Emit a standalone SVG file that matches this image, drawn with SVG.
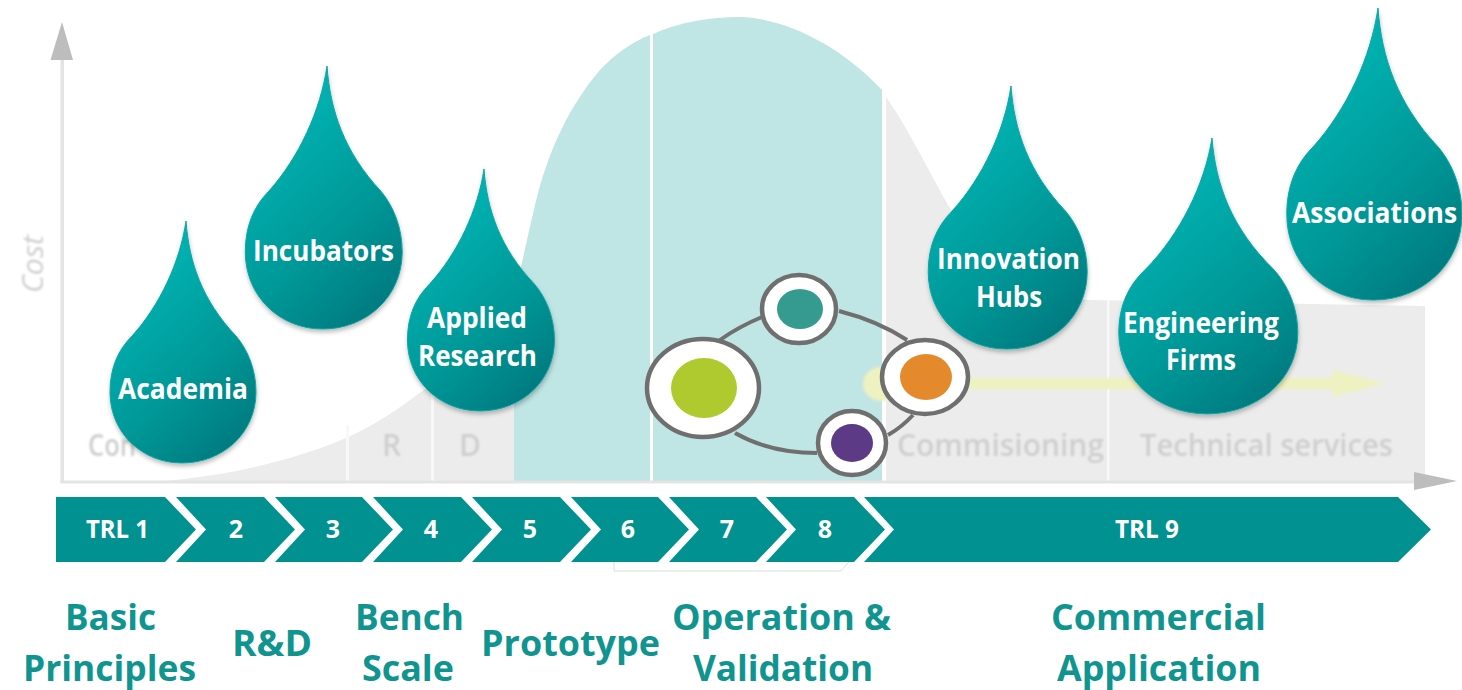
<svg xmlns="http://www.w3.org/2000/svg" width="1462" height="690" viewBox="0 0 1462 690">
<style>
text{font-family:"Open Sans","Noto Sans","Liberation Sans",sans-serif}
.d{fill:url(#dg);stroke:#12a5a5;stroke-width:1}
.w{font-size:28px;font-weight:700;fill:#fff}
.c{font-size:25px;font-weight:700;fill:#fff}
.b{font-size:36px;font-weight:700;fill:#0f9490}
.g{font-size:30px;font-weight:600;fill:#cfcfcf;filter:url(#soft)}
.ch{fill:#029191}
.ring{fill:#fff;stroke:#6f6f6f;stroke-width:4.500}
.link{fill:none;stroke:#6f6f6f;stroke-width:4}
</style>
<defs>
<linearGradient id="dg" x1="0.3" y1="0.25" x2="0.72" y2="1"><stop offset="0" stop-color="#00afae"/><stop offset="0.55" stop-color="#009797"/><stop offset="1" stop-color="#007b80"/></linearGradient>
<filter id="sh" x="-20%" y="-10%" width="140%" height="125%"><feDropShadow dx="0.5" dy="3" stdDeviation="2" flood-color="#000" flood-opacity="0.25"/></filter>
<filter id="soft"><feGaussianBlur stdDeviation="0.9"/></filter>
<filter id="glow" x="-5%" y="-50%" width="110%" height="200%"><feGaussianBlur stdDeviation="1.6"/></filter>
<path id="drop" class="d" vector-effect="non-scaling-stroke" d="M0,0 C3,41 16,79 50,115 C62,129 70,149 70,171 C70,212 37,242 -4,242 C-44,242 -76,212 -76,171 C-76,147 -68,129 -54,115 C-26,84 -6,41 0,0Z"/>
</defs>
<rect width="1462" height="690" fill="#fff"/>
<g id="chart">
<path fill="#ececec" d="M165,481 C240,474 300,458 348,437 C375,425 400,408 421,392 C455,368 490,340 514,290 V481Z"/>
<path fill="#ececec" d="M886,97 C910,130 935,185 960,225 C985,265 1020,295 1090,300 L1425,306 V481 H886Z"/>
<path fill="#bfe5e4" d="M514,481 V300 C522,262 528,235 535,205 C548,150 570,105 600,70 C615,54 632,42 650,35 V481Z"/>
<path fill="#bfe5e4" d="M653,34 C680,22 710,17 740,17 C785,18 840,45 882,90 V481 H653Z"/>
<rect x="346" y="425" width="3" height="57" fill="#f8f8f8"/>
<rect x="431" y="385" width="3" height="97" fill="#f8f8f8"/>
<rect x="1107" y="300" width="2.500" height="182" fill="#f8f8f8"/>
<rect x="60.500" y="58" width="3.500" height="425" fill="#e4e4e4"/>
<rect x="60.500" y="480.500" width="1356" height="3" fill="#e4e4e4"/>
<polygon points="62,22 73,60 50.500,60" fill="#bdbdbd"/>
<polygon points="1457,481 1414,472 1414,490" fill="#bdbdbd"/>
<g filter="url(#glow)" fill="#eef2c0">
<ellipse cx="881" cy="384" rx="18" ry="17"/>
<rect x="881" y="378" width="455" height="11"/>
<polygon points="1333,370 1385,383.500 1333,397"/>
</g>
<text class="g" x="88" y="456" textLength="48" lengthAdjust="spacingAndGlyphs">Con</text>
<text class="g" x="382" y="456">R</text>
<text class="g" x="459" y="456">D</text>
<text class="g" x="897" y="456" textLength="207" lengthAdjust="spacingAndGlyphs">Commisioning</text>
<text class="g" x="1140" y="456" textLength="253" lengthAdjust="spacingAndGlyphs">Technical services</text>
<text class="g" transform="translate(43,293) rotate(-90)" font-style="italic" style="font-weight:400" textLength="58" lengthAdjust="spacingAndGlyphs">Cost</text>
</g>
<path d="M614,555 V571 H841 L853,557" fill="#fff" stroke="#dcdcdc" stroke-width="1"/>
<g id="connectors">
<path class="link" d="M720,340 Q738,327 762,317"/>
<path class="link" d="M839,311 Q878,321 907,340"/>
<path class="link" d="M913,415 Q902,427 888,435"/>
<path class="link" d="M817,453 Q770,453 735,433"/>
</g>
<g id="net-green"><ellipse class="ring" cx="703" cy="388" rx="56" ry="49"/><ellipse cx="704" cy="388" rx="33" ry="30" fill="#afca2e"/></g>
<g id="net-teal"><ellipse class="ring" cx="799" cy="309" rx="37" ry="34"/><ellipse cx="800" cy="309" rx="23" ry="20" fill="#359b90"/></g>
<g id="net-orange"><ellipse class="ring" cx="925" cy="377" rx="43" ry="37"/><ellipse cx="926" cy="377" rx="26" ry="23" fill="#e58a2c"/></g>
<g id="net-purple"><ellipse class="ring" cx="852" cy="443" rx="34" ry="32"/><ellipse cx="852" cy="443" rx="21" ry="19" fill="#5d3a86"/></g>
<g id="trl-bar">
<polygon class="ch" points="56,497 165,497 196,529.500 165,562 56,562"/>
<polygon class="ch" points="176,497 264,497 295,529.500 264,562 176,562 206,529.500"/>
<polygon class="ch" points="275,497 362,497 393,529.500 362,562 275,562 305,529.500"/>
<polygon class="ch" points="373,497 461,497 492,529.500 461,562 373,562 403,529.500"/>
<polygon class="ch" points="472,497 560,497 591,529.500 560,562 472,562 502,529.500"/>
<polygon class="ch" points="571,497 658,497 689,529.500 658,562 571,562 601,529.500"/>
<polygon class="ch" points="669,497 756,497 787,529.500 756,562 669,562 699,529.500"/>
<polygon class="ch" points="766,497 854,497 885,529.500 854,562 766,562 796,529.500"/>
<polygon class="ch" points="864,497 1398,497 1431,529.500 1398,562 864,562 894,529.500"/>
<text class="c" x="86" y="538" textLength="63" lengthAdjust="spacingAndGlyphs">TRL 1</text>
<text class="c" x="236" y="538" text-anchor="middle">2</text>
<text class="c" x="333" y="538" text-anchor="middle">3</text>
<text class="c" x="431" y="538" text-anchor="middle">4</text>
<text class="c" x="530" y="538" text-anchor="middle">5</text>
<text class="c" x="628" y="538" text-anchor="middle">6</text>
<text class="c" x="727" y="538" text-anchor="middle">7</text>
<text class="c" x="825" y="538" text-anchor="middle">8</text>
<text class="c" x="1115" y="538" textLength="64" lengthAdjust="spacingAndGlyphs">TRL 9</text>
</g>
<g id="academia"><g filter="url(#sh)"><use href="#drop" transform="translate(186,221)"/></g><text class="w" x="118" y="399" textLength="130" lengthAdjust="spacingAndGlyphs">Academia</text></g>
<g id="incubators"><g filter="url(#sh)"><use href="#drop" transform="translate(327,66) scale(1.075,1.087)"/></g><text class="w" x="253" y="261" textLength="141" lengthAdjust="spacingAndGlyphs">Incubators</text></g>
<g id="applied-research"><g filter="url(#sh)"><use href="#drop" transform="translate(484,169) scale(1.007,1)"/></g><text class="w" x="427" y="328" textLength="100" lengthAdjust="spacingAndGlyphs">Applied</text><text class="w" x="418" y="366" textLength="119" lengthAdjust="spacingAndGlyphs">Research</text></g>
<g id="innovation-hubs"><g filter="url(#sh)"><use href="#drop" transform="translate(1011,86) scale(1.089,1.087)"/></g><text class="w" x="937" y="269" textLength="143" lengthAdjust="spacingAndGlyphs">Innovation</text><text class="w" x="976" y="307" textLength="66" lengthAdjust="spacingAndGlyphs">Hubs</text></g>
<g id="engineering-firms"><g filter="url(#sh)"><use href="#drop" transform="translate(1212,138) scale(1.226,1.14)"/></g><text class="w" x="1123" y="333" textLength="156" lengthAdjust="spacingAndGlyphs">Engineering</text><text class="w" x="1166" y="370" textLength="70" lengthAdjust="spacingAndGlyphs">Firms</text></g>
<g id="associations"><g filter="url(#sh)"><use href="#drop" transform="translate(1378,8) scale(1.2,1.207)"/></g><text class="w" transform="translate(1292,223) scale(0.945,1)">Associations</text></g>
<g id="stages">
<text class="b" x="65" y="630" textLength="91" lengthAdjust="spacingAndGlyphs">Basic</text>
<text class="b" x="23" y="681" textLength="173" lengthAdjust="spacingAndGlyphs">Principles</text>
<text class="b" x="232" y="656" textLength="80" lengthAdjust="spacingAndGlyphs">R&amp;D</text>
<text class="b" x="355" y="630" textLength="109" lengthAdjust="spacingAndGlyphs">Bench</text>
<text class="b" x="362" y="681" textLength="92" lengthAdjust="spacingAndGlyphs">Scale</text>
<text class="b" x="481" y="656" textLength="179" lengthAdjust="spacingAndGlyphs">Prototype</text>
<text class="b" x="672" y="630" textLength="219" lengthAdjust="spacingAndGlyphs">Operation &amp;</text>
<text class="b" x="693" y="681" textLength="180" lengthAdjust="spacingAndGlyphs">Validation</text>
<text class="b" x="1051" y="630" textLength="215" lengthAdjust="spacingAndGlyphs">Commercial</text>
<text class="b" x="1057" y="681" textLength="204" lengthAdjust="spacingAndGlyphs">Application</text>
</g>
</svg>
